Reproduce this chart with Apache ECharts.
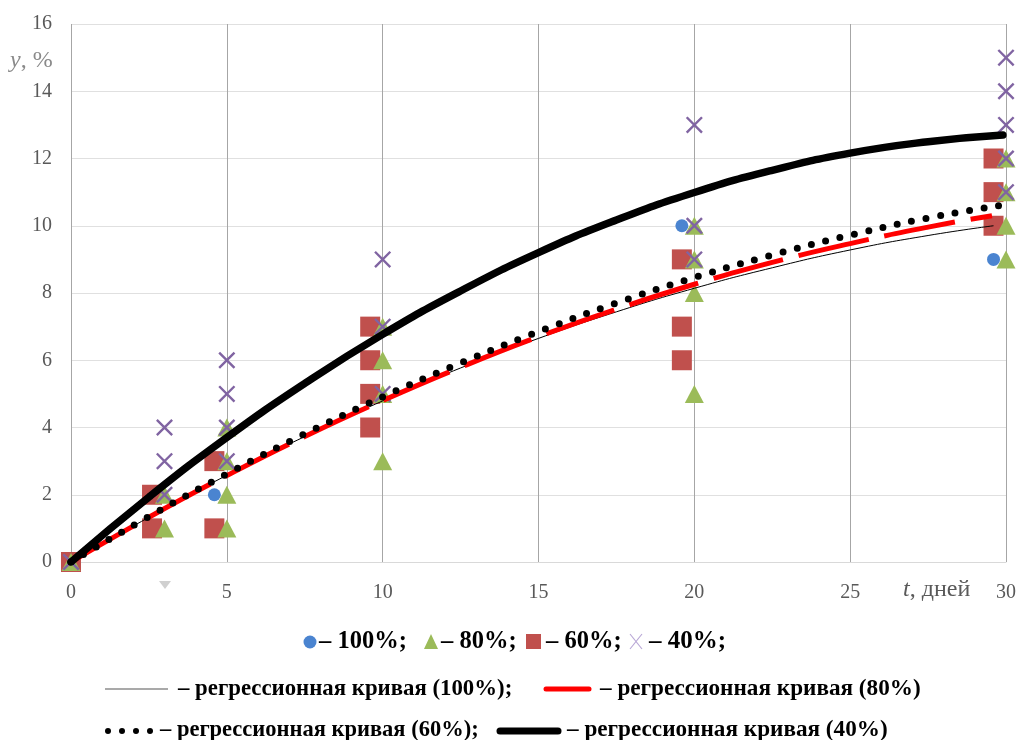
<!DOCTYPE html>
<html>
<head>
<meta charset="utf-8">
<script src="https://cdn.jsdelivr.net/npm/echarts@6/dist/echarts.min.js"></script>
<style>
  html, body { margin: 0; padding: 0; background: #ffffff; }
  #chart { width: 1019px; height: 740px; }
</style>
</head>
<body>
<div id="chart"></div>
<script>
// Moisture loss y (%) over storage time t (days), four humidity levels.
const xTicks = { min: 0, max: 30, step: 5 };
const yTicks = { min: 0, max: 16, step: 2 };

// Measured points [t, y]
const pts100 = [[0, 0], [4.6, 2], [19.6, 10], [29.6, 9]];
const pts80 = [[0, 0], [3, 1], [3, 2], [5, 1], [5, 2], [5, 3], [5, 4], [10, 3], [10, 5], [10, 6], [10, 7],
  [20, 5], [20, 8], [20, 9], [20, 10], [30, 9], [30, 10], [30, 11], [30, 12]];
const pts60 = [[0, 0], [2.6, 1], [2.6, 2], [4.6, 1], [4.6, 3], [9.6, 4], [9.6, 5], [9.6, 6], [9.6, 7],
  [19.6, 6], [19.6, 7], [19.6, 9], [29.6, 10], [29.6, 11], [29.6, 12]];
const pts40 = [[0, 0], [3, 2], [3, 3], [3, 4], [5, 3], [5, 4], [5, 5], [5, 6], [10, 5], [10, 7], [10, 9],
  [20, 9], [20, 10], [20, 13], [30, 11], [30, 12], [30, 13], [30, 14], [30, 15]];

// Regression curves [t, y]
const fit100 = [[0, 0], [2.5, 1.33], [5, 2.58], [7.5, 3.73], [10, 4.79], [12.5, 5.77], [15, 6.65],
  [17.5, 7.44], [20, 8.14], [22.5, 8.75], [25, 9.28], [27.5, 9.71], [29.6, 10.0]];
const fit80 = [[0, 0], [2.5, 1.33], [5, 2.57], [7.5, 3.73], [10, 4.80], [12.5, 5.79], [15, 6.70],
  [17.5, 7.52], [20, 8.26], [22.5, 8.91], [25, 9.47], [27.5, 9.96], [29.55, 10.3]];
const fit60 = [[0, 0], [2.5, 1.35], [5, 2.62], [7.5, 3.81], [10, 4.91], [12.5, 5.92], [15, 6.85],
  [17.5, 7.70], [20, 8.46], [22.5, 9.13], [25, 9.72], [27.5, 10.23], [29.8, 10.6]];
const fit40 = [[0, 0], [2.5, 1.93], [5, 3.70], [7.5, 5.31], [10, 6.77], [12.5, 8.06], [15, 9.20],
  [17.5, 10.17], [20, 10.99], [22.5, 11.65], [25, 12.16], [27.5, 12.50], [29.9, 12.70]];

// Axis titles and legend texts
const xTitle = ['t', ', дней'];
const yTitle = ['y', ', %'];
const markLabels = ['– 100%;', '– 80%;', '– 60%;', '– 40%;'];
const curveLabels = ['– регрессионная кривая (100%);', '– регрессионная кривая (80%)',
  '– регрессионная кривая (60%);', '– регрессионная кривая (40%)'];

const C_BLUE = '#4a84d0', C_GREEN = '#9bbb59', C_RED = '#c0504d', C_PURPLE = '#8064a2';
const SERIF = '"Liberation Serif", "Times New Roman", serif';
const CROSS = 'path://M0,1L1,0L10,9L9,10Z M9,0L10,1L1,10L0,9Z';

function legendText(x, y, text, size) {
  return { type: 'text', x: x, y: y, silent: true,
    style: { text: text, fontFamily: SERIF, fontWeight: 'bold', fontSize: size, fill: '#000',
      align: 'left', verticalAlign: 'middle' } };
}
function axisTitle(x, y, parts, color, size) {
  return { type: 'text', x: x, y: y, silent: true,
    style: { text: '{i|' + parts[0] + '}{n|' + parts[1] + '}', align: 'left', verticalAlign: 'middle',
      rich: {
        i: { fontFamily: SERIF, fontStyle: 'italic', fontSize: size, fill: color },
        n: { fontFamily: SERIF, fontSize: size, fill: color } } } };
}

const graphics = [
  axisTitle(10, 61, yTitle, '#8a8a8a', 24),
  axisTitle(903, 590, xTitle, '#595959', 24),
  // small marker left below the axis
  { type: 'polygon', shape: { points: [[159, 581], [171, 581], [165, 589]] }, style: { fill: '#d0d0d0' } },

  // row 1: point markers
  { type: 'circle', shape: { cx: 310, cy: 642, r: 6.5 }, style: { fill: C_BLUE } },
  legendText(319, 642, markLabels[0], 24.5),
  { type: 'polygon', shape: { points: [[424, 649], [438, 649], [431, 634]] }, style: { fill: C_GREEN } },
  legendText(441, 642, markLabels[1], 24.5),
  { type: 'rect', shape: { x: 526, y: 634, width: 15, height: 15 }, style: { fill: C_RED } },
  legendText(546, 642, markLabels[2], 24.5),
  { type: 'line', shape: { x1: 630, y1: 634, x2: 642, y2: 649 }, style: { stroke: '#b9a8d6', lineWidth: 1.2 } },
  { type: 'line', shape: { x1: 642, y1: 634, x2: 630, y2: 649 }, style: { stroke: '#b9a8d6', lineWidth: 1.2 } },
  legendText(649, 642, markLabels[3], 25),

  // row 2: curves 100% and 80%
  { type: 'line', shape: { x1: 105, y1: 689, x2: 168, y2: 689 }, style: { stroke: '#555', lineWidth: 1.2 } },
  legendText(178, 689, curveLabels[0], 22.8),
  { type: 'line', shape: { x1: 546, y1: 689, x2: 589, y2: 689 }, style: { stroke: '#ff0000', lineWidth: 5, lineCap: 'round' } },
  legendText(600, 689, curveLabels[1], 23.2),

  // row 3: curves 60% and 40%
  { type: 'circle', shape: { cx: 108, cy: 731, r: 3 }, style: { fill: '#000' } },
  { type: 'circle', shape: { cx: 122, cy: 731, r: 3 }, style: { fill: '#000' } },
  { type: 'circle', shape: { cx: 136, cy: 731, r: 3 }, style: { fill: '#000' } },
  { type: 'circle', shape: { cx: 150, cy: 731, r: 3 }, style: { fill: '#000' } },
  legendText(160, 730, curveLabels[2], 22.5),
  { type: 'line', shape: { x1: 500, y1: 731, x2: 558, y2: 731 }, style: { stroke: '#000', lineWidth: 7, lineCap: 'round' } },
  legendText(567, 730, curveLabels[3], 23.2)
];

const chart = echarts.init(document.getElementById('chart'), null, { renderer: 'canvas' });
chart.setOption({
  animation: false,
  backgroundColor: '#ffffff',
  grid: { left: 71, right: 12, top: 24, bottom: 178, containLabel: false },
  xAxis: {
    type: 'value', min: xTicks.min, max: xTicks.max, interval: xTicks.step,
    axisLine: { show: true, lineStyle: { color: '#d9d9d9', width: 1 } },
    axisTick: { show: false },
    splitLine: { show: true, lineStyle: { color: '#a6a6a6', width: 1 } },
    axisLabel: { color: '#595959', fontFamily: SERIF, fontSize: 20, margin: 21 }
  },
  yAxis: {
    type: 'value', min: yTicks.min, max: yTicks.max, interval: yTicks.step,
    axisLine: { show: false },
    axisTick: { show: false },
    splitLine: { show: true, lineStyle: { color: '#e0e0e0', width: 1 } },
    axisLabel: { color: '#595959', fontFamily: SERIF, fontSize: 20, margin: 19 }
  },
  graphic: graphics,
  series: [
    { name: '100%', type: 'scatter', data: pts100, symbol: 'circle', symbolSize: 13, clip: false,
      itemStyle: { color: C_BLUE, opacity: 1 } },
    { name: '60%', type: 'scatter', data: pts60, symbol: 'rect', symbolSize: 20, clip: false,
      itemStyle: { color: C_RED, opacity: 1 } },
    { name: '80%', type: 'scatter', data: pts80, symbol: 'triangle', symbolSize: [19, 18], clip: false,
      itemStyle: { color: C_GREEN, opacity: 1 } },
    { name: '40%', type: 'scatter', data: pts40, symbol: CROSS, symbolSize: 17, clip: false,
      itemStyle: { color: C_PURPLE, opacity: 1 } },

    { name: 'fit100', type: 'line', data: fit100, smooth: true, showSymbol: false, symbol: 'none',
      lineStyle: { color: '#000', width: 1 } },
    { name: 'fit80', type: 'line', data: fit80, smooth: true, showSymbol: false, symbol: 'none',
      lineStyle: { color: '#ff0000', width: 5, type: [72, 16], cap: 'butt' } },
    { name: 'fit60', type: 'line', data: fit60, smooth: true, showSymbol: false, symbol: 'none',
      lineStyle: { color: '#000', width: 7, type: [0, 14.7], cap: 'round' } },
    { name: 'fit40', type: 'line', data: fit40, smooth: true, showSymbol: false, symbol: 'none',
      lineStyle: { color: '#000', width: 7.5, cap: 'round' } }
  ]
});
</script>
</body>
</html>
